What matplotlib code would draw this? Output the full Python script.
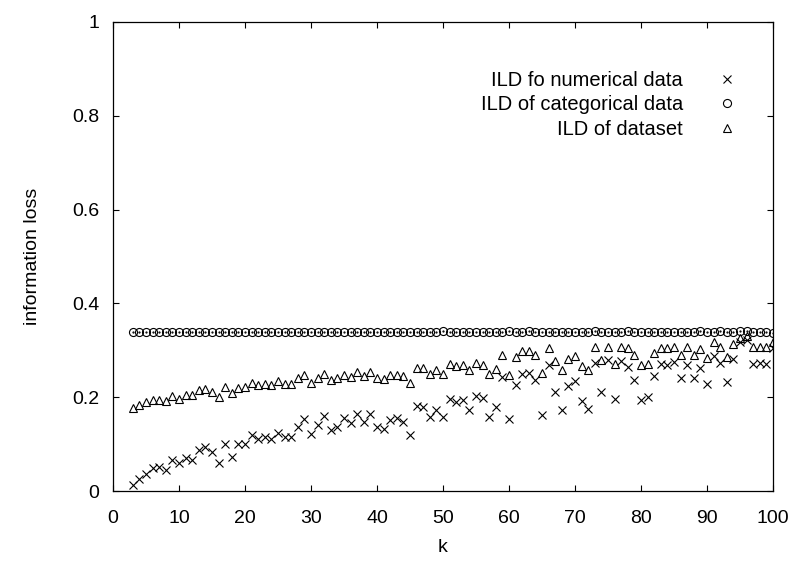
import matplotlib
matplotlib.use("Agg")
import matplotlib.pyplot as plt
from matplotlib.ticker import MultipleLocator, FuncFormatter

plt.rcParams['font.family'] = ['Liberation Sans', 'DejaVu Sans']

# valores de k (tamano de grupo)
k = list(range(3, 101))

# ILD de los datos numericos (cruces)
ild_num = [
    0.013, 0.025, 0.036, 0.048, 0.052, 0.045, 0.066, 0.059, 0.070, 0.067,
    0.087, 0.094, 0.084, 0.060, 0.101, 0.073, 0.100, 0.100, 0.119, 0.110,
    0.116, 0.110, 0.124, 0.116, 0.116, 0.137, 0.153, 0.121, 0.140, 0.160,
    0.130, 0.137, 0.156, 0.144, 0.165, 0.147, 0.164, 0.137, 0.133, 0.151,
    0.155, 0.147, 0.119, 0.181, 0.179, 0.158, 0.172, 0.158, 0.197, 0.190,
    0.195, 0.172, 0.203, 0.199, 0.158, 0.179, 0.243, 0.153, 0.227, 0.250,
    0.252, 0.236, 0.163, 0.268, 0.211, 0.172, 0.223, 0.234, 0.192, 0.174,
    0.273, 0.211, 0.279, 0.197, 0.277, 0.265, 0.236, 0.194, 0.201, 0.245,
    0.270, 0.268, 0.275, 0.242, 0.268, 0.242, 0.263, 0.228, 0.287, 0.272,
    0.233, 0.282, 0.318, 0.323, 0.270, 0.273, 0.270, 0.304,
]

# ILD de los datos categoricos (circulos)
ild_cat = [
    0.340, 0.340, 0.340, 0.340, 0.340, 0.340, 0.340, 0.340, 0.340, 0.340,
    0.340, 0.340, 0.340, 0.340, 0.340, 0.340, 0.340, 0.340, 0.340, 0.340,
    0.340, 0.340, 0.340, 0.340, 0.340, 0.340, 0.340, 0.340, 0.340, 0.340,
    0.340, 0.340, 0.340, 0.340, 0.340, 0.340, 0.340, 0.340, 0.340, 0.340,
    0.340, 0.340, 0.339, 0.340, 0.340, 0.340, 0.340, 0.341, 0.340, 0.340,
    0.340, 0.340, 0.340, 0.340, 0.339, 0.340, 0.340, 0.341, 0.340, 0.340,
    0.341, 0.340, 0.340, 0.340, 0.339, 0.340, 0.340, 0.340, 0.340, 0.340,
    0.341, 0.340, 0.340, 0.340, 0.340, 0.341, 0.340, 0.340, 0.340, 0.340,
    0.340, 0.340, 0.340, 0.340, 0.340, 0.340, 0.341, 0.340, 0.340, 0.342,
    0.340, 0.340, 0.342, 0.341, 0.340, 0.340, 0.340, 0.336,
]

# ILD del conjunto de datos completo (triangulos)
ild_all = [
    0.176, 0.183, 0.190, 0.195, 0.195, 0.192, 0.202, 0.196, 0.204, 0.204,
    0.215, 0.217, 0.211, 0.201, 0.222, 0.208, 0.220, 0.221, 0.230, 0.227,
    0.229, 0.227, 0.234, 0.229, 0.229, 0.240, 0.247, 0.231, 0.241, 0.250,
    0.236, 0.240, 0.247, 0.243, 0.254, 0.245, 0.254, 0.240, 0.238, 0.247,
    0.248, 0.245, 0.230, 0.262, 0.262, 0.250, 0.257, 0.250, 0.270, 0.266,
    0.268, 0.257, 0.272, 0.269, 0.250, 0.261, 0.291, 0.248, 0.286, 0.298,
    0.298, 0.289, 0.252, 0.304, 0.277, 0.257, 0.282, 0.287, 0.267, 0.257,
    0.306, 0.279, 0.307, 0.270, 0.307, 0.304, 0.289, 0.268, 0.270, 0.294,
    0.305, 0.305, 0.307, 0.291, 0.306, 0.289, 0.302, 0.284, 0.318, 0.307,
    0.286, 0.313, 0.327, 0.330, 0.306, 0.307, 0.306, 0.318,
]

labels = ['ILD fo numerical data', 'ILD of categorical data', 'ILD of dataset']

fig = plt.figure(figsize=(7.98, 5.66), dpi=100)
ax = fig.add_axes([113 / 798, 75 / 566, 660 / 798, 469 / 566])

ms = 5.8
ax.plot(k, ild_num, 'x', color='black', ms=ms, mew=0.8, label=labels[0])
ax.plot(k, ild_cat, 'o', color='black', mfc='none', ms=ms, mew=0.8, label=labels[1])
ax.plot(k, ild_all, '^', color='black', mfc='none', ms=ms, mew=0.8, label=labels[2])
# punto central de los circulos, como en gnuplot
ax.plot(k, ild_cat, '.', color='black', ms=1.2)

ax.set_xlim(0, 100)
ax.set_ylim(0, 1)
ax.xaxis.set_major_locator(MultipleLocator(10))
ax.yaxis.set_major_locator(MultipleLocator(0.2))
ax.yaxis.set_major_formatter(FuncFormatter(lambda v, p: '%g' % round(v, 2)))

fs = 14
ax.tick_params(direction='in', top=True, right=True, length=4.5, width=0.8,
               labelsize=fs)
ax.tick_params(axis='x', pad=14)
ax.tick_params(axis='y', pad=10)
for s in ax.spines.values():
    s.set_linewidth(0.9)

ax.set_xlabel('k', fontsize=fs, labelpad=8)
ax.set_ylabel('information loss', fontsize=fs, labelpad=22)

ax.legend(loc='upper right', bbox_to_anchor=(0.973, 0.913), frameon=False,
          markerfirst=False, fontsize=14.5, handlelength=2.0,
          handletextpad=1.19, labelspacing=0.28, borderaxespad=0)

fig.savefig('out.png', dpi=100)
